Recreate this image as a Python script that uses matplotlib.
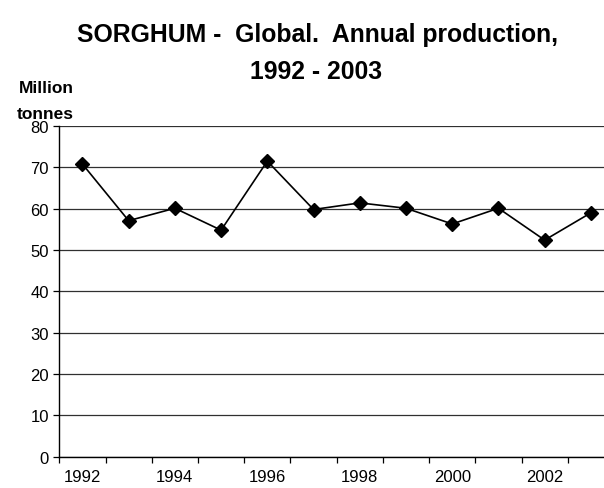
import matplotlib
matplotlib.use("Agg")
import matplotlib.pyplot as plt
import numpy as np

years = [1992, 1993, 1994, 1995, 1996, 1997, 1998, 1999, 2000, 2001, 2002, 2003]
production = [70.8, 57.1, 60.1, 54.8, 71.5, 59.8, 61.4, 60.1, 56.3, 60.1, 52.4, 59.0]
yticks = [0, 10, 20, 30, 40, 50, 60, 70, 80]
xlabel_years = [1992, 1994, 1996, 1998, 2000, 2002]

plt.rcParams['font.family'] = ['Liberation Sans', 'DejaVu Sans']

W, H = 604, 489
fig = plt.figure(figsize=(W / 100, H / 100), dpi=100)

left, right, top, bottom = 59.3, 614, 127, 457.7
ax = fig.add_axes([left / W, (H - bottom) / H, (right - left) / W, (bottom - top) / H])

x = np.arange(len(years))
ax.plot(x, production, color='black', linewidth=1.2, marker='D', markersize=6.8,
        markerfacecolor='black', markeredgecolor='black', zorder=3, clip_on=False)

ax.set_ylim(0, 80)
ax.set_xlim(-0.5, len(years) - 0.5)
ax.set_yticks(yticks)
ax.set_yticklabels([str(v) for v in yticks], fontsize=12)
ax.yaxis.grid(True, color='#303030', linewidth=0.9)
ax.set_axisbelow(True)

major_pos = [years.index(y) for y in xlabel_years]
ax.set_xticks(major_pos)
ax.set_xticklabels([str(y) for y in xlabel_years], fontsize=12)
ax.tick_params(axis='x', which='major', length=0, pad=9)
ax.set_xticks(np.arange(-0.5, len(years) + 0.5, 1.0), minor=True)
ax.tick_params(axis='x', which='minor', length=4.5, width=0.9, direction='out', color='black')
ax.tick_params(axis='y', length=4.5, width=0.9, direction='out', pad=3)

for s in ['top', 'right']:
    ax.spines[s].set_visible(False)
ax.spines['left'].set_linewidth(1.0)
ax.spines['bottom'].set_linewidth(1.0)

fig.text(318 / W, 1 - 41.6 / H, "SORGHUM -  Global.  Annual production,", ha='center',
         va='baseline', fontsize=17.8, fontweight='bold')
fig.text(316 / W, 1 - 79 / H, "1992 - 2003", ha='center', va='baseline',
         fontsize=17.8, fontweight='bold')
fig.text(46 / W, 1 - 93 / H, "Million", ha='center', va='baseline', fontsize=12.5, fontweight='bold')
fig.text(45 / W, 1 - 119.4 / H, "tonnes", ha='center', va='baseline', fontsize=12.5, fontweight='bold')

fig.savefig("out.png", dpi=100)
